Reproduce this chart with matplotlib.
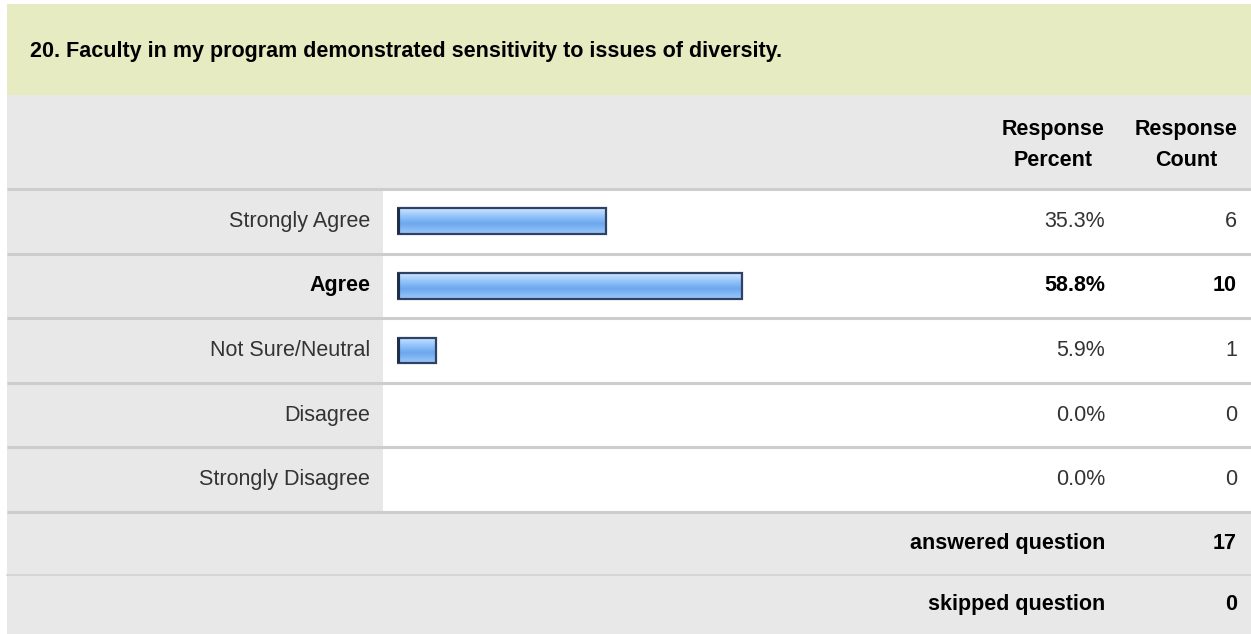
import numpy as np
import matplotlib.pyplot as plt
from matplotlib.patches import Rectangle
from matplotlib.colors import LinearSegmentedColormap

plt.rcParams['font.family'] = ['Liberation Sans', 'DejaVu Sans']

# ------------------------------------------------------------
# data
# ------------------------------------------------------------
title = "20. Faculty in my program demonstrated sensitivity to issues of diversity."
choices = ["Strongly Agree", "Agree", "Not Sure/Neutral", "Disagree", "Strongly Disagree"]
percents = [35.3, 58.8, 5.9, 0.0, 0.0]
counts = [6, 10, 1, 0, 0]
footer_labels = ["answered question", "skipped question"]
footer_values = [17, 0]

# ------------------------------------------------------------
# layout (pixels)
# ------------------------------------------------------------
W, H = 1251, 634
left = 7
title_top, title_bot = 4, 95
head_bot = 189
row_h = 64.6
label_col = 383
pct_right = 1105
cnt_right = 1237
bar_x0 = 397
bar_full = 578.7   # px for 100%
pad = 0.8          # bar border padding, in percent units

title_bg = "#e6ebc1"
grey_bg = "#e8e8e8"
sep_col = "#cdcdcd"
txt_col = "#333333"
fs = 15.5

fig = plt.figure(figsize=(W / 100, H / 100), dpi=100)
bg = fig.add_axes([0, 0, 1, 1])
bg.set_xlim(0, W)
bg.set_ylim(H, 0)
bg.axis("off")

# title band
bg.add_patch(Rectangle((left, title_top), W - left, title_bot - title_top,
                       facecolor=title_bg, edgecolor="none"))
bg.text(30, 52, title, fontsize=15.5, fontweight="bold",
        color="black", va="center", ha="left")

# header + grey panel
data_bot = head_bot + row_h * len(choices)
bg.add_patch(Rectangle((left, title_bot), W - left, H - title_bot,
                       facecolor=grey_bg, edgecolor="none"))
bg.add_patch(Rectangle((label_col, head_bot), W - label_col, data_bot - head_bot,
                       facecolor="white", edgecolor="none"))

bg.text(1053, 129, "Response", fontsize=fs, fontweight="bold", ha="center", va="center")
bg.text(1053, 161, "Percent", fontsize=fs, fontweight="bold", ha="center", va="center")
bg.text(1186, 129, "Response", fontsize=fs, fontweight="bold", ha="center", va="center")
bg.text(1186, 161, "Count", fontsize=fs, fontweight="bold", ha="center", va="center")

top_idx = int(np.argmax(percents))
for i, (lab, p, c) in enumerate(zip(choices, percents, counts)):
    yc = head_bot + row_h * (i + 0.5)
    wt = "bold" if i == top_idx else "normal"
    col = "black" if i == top_idx else txt_col
    bg.text(label_col - 13, yc, lab, fontsize=fs, fontweight=wt, color=col,
            ha="right", va="center")
    bg.text(pct_right, yc, f"{p:.1f}%", fontsize=fs, fontweight=wt, color=col,
            ha="right", va="center")
    bg.text(cnt_right, yc, str(c), fontsize=fs, fontweight=wt, color=col,
            ha="right", va="center")
    bg.plot([left, W], [head_bot + row_h * i] * 2, color=sep_col, lw=2.2,
            solid_capstyle="butt")
bg.plot([left, W], [data_bot] * 2, color=sep_col, lw=2.2, solid_capstyle="butt")

foot_h = [data_bot, 575, H]
for j, (lab, v) in enumerate(zip(footer_labels, footer_values)):
    yc = (foot_h[j] + foot_h[j + 1]) / 2
    bg.text(pct_right, yc, lab, fontsize=fs, fontweight="bold", ha="right", va="center")
    bg.text(cnt_right, yc, str(v), fontsize=fs, fontweight="bold", ha="right", va="center")
bg.plot([left, W], [575, 575], color="#d2d2d2", lw=1.2)

# ------------------------------------------------------------
# bars
# ------------------------------------------------------------
ax = fig.add_axes([bar_x0 / W, 1 - data_bot / H,
                   bar_full * (100 + pad) / 100 / W, (data_bot - head_bot) / H])
ax.axis("off")

grad = LinearSegmentedColormap.from_list(
    "bar", ["#cfe6ff", "#a9d0fd", "#86bbf7", "#6ea7ef", "#84b8f4", "#9cc8f9"])
g = np.linspace(0, 1, 64).reshape(-1, 1)
bh = 0.4
ypos = np.arange(len(choices))
vals = np.array(percents)
shown = vals > 0
for y, p in zip(ypos[shown], vals[shown]):
    ax.imshow(g, cmap=grad, aspect="auto", extent=[-pad, p, y + bh / 2, y - bh / 2],
              zorder=2, interpolation="bilinear")
    ax.plot([-pad + 0.15, -pad + 0.15], [y - bh / 2, y + bh / 2], color="#1f2f4a",
            lw=3, zorder=4, solid_capstyle="butt")
ax.barh(ypos[shown], vals[shown] + pad, left=-pad, height=bh, facecolor="none",
        edgecolor="#2e4263", linewidth=1.6, zorder=3)
ax.set_xlim(-pad, 100)
ax.set_ylim(len(choices) - 0.5, -0.5)

fig.savefig("out.png", dpi=100)
